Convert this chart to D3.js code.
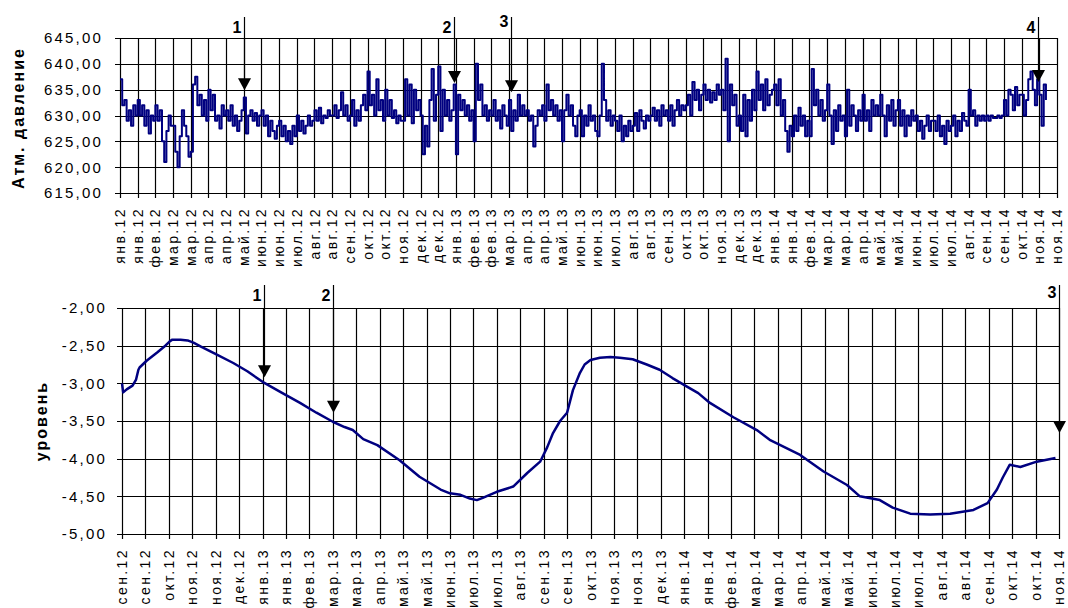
<!DOCTYPE html>
<html><head><meta charset="utf-8">
<script src="https://cdn.jsdelivr.net/npm/d3@7"></script>
<style>
body{margin:0;background:#fff}
text{font-family:"Liberation Sans",Arial,sans-serif}
</style>
</head><body>
<svg id="c" width="1068" height="608"></svg>
<script>
// ---------- DATA ----------
const topTickLabels = ["янв.12","янв.12","фев.12","мар.12","мар.12","апр.12","апр.12","май.12","июн.12","июн.12","июл.12","авг.12","авг.12","сен.12","окт.12","окт.12","ноя.12","дек.12","дек.12","янв.13","фев.13","фев.13","мар.13","апр.13","апр.13","май.13","июн.13","июн.13","июл.13","авг.13","авг.13","сен.13","окт.13","окт.13","ноя.13","дек.13","дек.13","янв.14","янв.14","фев.14","мар.14","мар.14","апр.14","май.14","май.14","июн.14","июл.14","июл.14","авг.14","сен.14","сен.14","окт.14","ноя.14","ноя.14"];
const bottomTickLabels = ["сен.12","сен.12","окт.12","ноя.12","ноя.12","дек.12","янв.13","янв.13","фев.13","мар.13","мар.13","апр.13","май.13","май.13","июн.13","июл.13","июл.13","авг.13","сен.13","сен.13","окт.13","ноя.13","ноя.13","дек.13","янв.14","янв.14","фев.14","мар.14","мар.14","апр.14","май.14","май.14","июн.14","июл.14","июл.14","авг.14","авг.14","сен.14","окт.14","окт.14","ноя.14"];
const tickStepDays = 20;
const topYTicks = [615,620,625,630,635,640,645];
const bottomYTicks = [-5,-4.5,-4,-3.5,-3,-2.5,-2];

// atmospheric pressure, one reading every 2.5 days from 01.01.2012
const pressureStepDays = 2.5;
const pressure = [
637,632,633,629,631,628,632,630,
633,630,632,628,631,626.5,630,629,
632,629,631,625,621,627,630,628,
628,623,620,626,631,628,626,622,
623,636,637.5,632,634,630,633,629,
635,631,634,629,630,627.5,632,630,
631,629,632,628,630,627,629,631,
633.5,626.5,630,631,629,630.5,628,630,
631,628,630,626,629,627,625.5,628,
629,626,628,625,627,624.5,628,626,
630,627,629,626.5,628,630,628,629,
631,629,631.5,628.5,630,629.5,631,630,
630,632,629.5,631,634.5,630,632,629,
630,633,628,631,629,632,634,631,
638.5,632,634,630,637,631,633,629,
635,630,633,629.5,631,628.5,630,629,
629,637,630,636,628.5,635,631,633,
630,622.5,628,624,633,639,629,634,
639.5,627,635,630,633,629,631,636,
622.5,634,631,633,630,632,629,631,
625,640,633,636,630,632,629,631,
630,633,629,631,627.5,632,630,628,
633,627,631,629,634,630,632,630,
631,629,630,624,628,631,630,632,
629,636,631,633,630,632,629,631,
625,631,634,630,632,628,626,630,
631,626,630,628,632,629,630,627,
626,630,640,633,629,631,628,630,
629,627,630,625,628,626,629,627,
628,630.5,627,631,629,627.5,630,629,
630,631.5,629,631,628,632,630,631,
629,632,628,631,633,630,632,631,
632,634,630,636.5,633,635,631,634,
636,633,635,632.5,634.5,633,636,634,
635,631,641,625,636,632,634,628,
630,627,634,626,633,629,635,631,
638.5,633,636,631,637,632,634,635,
636,632,637,630,633,627,623,628,
626,630,627,631.5,628,630,626,629,
626,639,632,635,630,633,629,631,
636,630,624.5,631,627,632,629,630,
626,635,628,632,630,627,631,629,
634,629,631,627,633,630,632,630,
634,630,626,632,629,633,628,631,
633,628,631,626,630,628,631,629,
630,627,629,625.5,628,630,627,629,
629,627,630,626,628,624.5,629,627,
628,630,626,629,627,630.5,629,628,
635,630,631,628,630,629,630,629,
630,629,630,629.5,629.5,630,629.5,630,
633,630,635,634,631,635.5,632,634,
634,630,633,637,638.5,635,632,637,
634,628,636,633
];

// water level, days from 10.09.2012
const levelDays = [0,1,4,9,12,14,15,21,30,37,41,43,50,56,61,67,81,95,107,120,137,152,166,180,190,197,206,218,237,254,272,280,289,297,303,308,320,334,346,357,363,368,374,380,385,391,395,400,408,417,425,436,448,459,470,482,492,502,522,542,553,579,599,619,630,647,658,673,690,707,727,739,747,752,758,767,781,797];
const levelValues = [-3.0,-3.12,-3.08,-3.03,-2.95,-2.82,-2.79,-2.70,-2.59,-2.50,-2.44,-2.42,-2.42,-2.43,-2.46,-2.51,-2.62,-2.73,-2.84,-2.98,-3.13,-3.26,-3.39,-3.51,-3.58,-3.62,-3.74,-3.82,-4.02,-4.24,-4.41,-4.46,-4.48,-4.53,-4.55,-4.52,-4.44,-4.37,-4.19,-4.04,-3.85,-3.66,-3.50,-3.39,-3.09,-2.86,-2.75,-2.69,-2.66,-2.65,-2.66,-2.68,-2.75,-2.82,-2.93,-3.04,-3.13,-3.26,-3.45,-3.62,-3.75,-3.95,-4.17,-4.35,-4.50,-4.55,-4.65,-4.73,-4.74,-4.73,-4.68,-4.59,-4.41,-4.25,-4.08,-4.11,-4.04,-3.99];

// event markers
const topMarkerLabels = ["1","2","3","4"];
const topMarkerDays = [140,378,442,1038];
const topMarkerValues = [634.9,636.3,634.5,636.5];
const bottomMarkerLabels = ["1","2","3"];
const bottomMarkerDays = [121,180,800];
const bottomMarkerValues = [-2.92,-3.39,-3.66];

// ---------- DRAW ----------
const svg = d3.select("#c");
svg.append("rect").attr("width",1068).attr("height",608).attr("fill","#fff");
const fmt = v => d3.format(".2f")(v).replace(".",",").replace("\u2212","-");

function panel(o){
  const g = svg.append("g");
  const x = d3.scaleLinear().domain([0,(o.tickLabels.length-1)*tickStepDays]).range([o.left,o.right]);
  const y = d3.scaleLinear().domain(o.yDomain).range([o.bottom,o.top]);
  g.selectAll(".hg").data(o.yTicks).join("line")
    .attr("x1",o.left-5).attr("x2",o.right)
    .attr("y1",d=>Math.round(y(d))+0.5).attr("y2",d=>Math.round(y(d))+0.5)
    .attr("stroke","#000").attr("stroke-width",1.2);
  g.selectAll(".yl").data(o.yTicks).join("text")
    .attr("x",o.left-o.ylabOff).attr("y",d=>y(d)).attr("dy","0.36em")
    .attr("text-anchor","end").attr("font-size",15).attr("letter-spacing",2.2)
    .text(fmt);
  g.selectAll(".vg").data(o.tickLabels).join("line")
    .attr("x1",(d,i)=>Math.round(x(i*tickStepDays))+0.5).attr("x2",(d,i)=>Math.round(x(i*tickStepDays))+0.5)
    .attr("y1",o.top).attr("y2",o.bottom+5)
    .attr("stroke","#000").attr("stroke-width",1.2);
  g.selectAll(".xl").data(o.tickLabels).join("text")
    .attr("transform",(d,i)=>`translate(${x(i*tickStepDays)},${o.bottom+14}) rotate(-90)`)
    .attr("dy","0.36em").attr("text-anchor","end")
    .attr("font-size",14).attr("letter-spacing",2.4)
    .text(d=>d);
  g.append("path").datum(o.series)
    .attr("d",d3.line().curve(o.curve).x(d=>x(d[0])).y(d=>y(d[1])))
    .attr("fill","none").attr("stroke","#000080").attr("stroke-width",o.lw)
    .attr("stroke-linejoin","round");
  g.append("text")
    .attr("transform",`translate(${o.titleX},${o.titleY}) rotate(-90)`)
    .attr("text-anchor","middle").attr("dy","0.36em")
    .attr("font-size",16).attr("font-weight","bold").attr("letter-spacing",2)
    .text(o.title);
  o.markers.forEach((m,i)=>{
    const mx = Math.round(x(m.day))+0.5, tip = y(m.value);
    g.append("line").attr("x1",mx).attr("x2",mx).attr("y1",o.markTop).attr("y2",tip-11)
      .attr("stroke","#000").attr("stroke-width",1.2);
    g.append("path").attr("d",`M${mx-6.5},${tip-12}L${mx+6.5},${tip-12}L${mx},${tip}Z`).attr("fill","#000");
    g.append("text").attr("x",mx-3).attr("y",m.labelY).attr("text-anchor","end")
      .attr("font-family","'Liberation Serif','Times New Roman',serif")
      .attr("font-weight","bold").attr("font-size",16).text(m.label);
  });
}

panel({
  left:120,right:1057,top:38,bottom:193,ylabOff:17,
  yDomain:[615,645],yTicks:topYTicks,tickLabels:topTickLabels,
  series:pressure.map((v,i)=>[i*pressureStepDays,v]),lw:2,curve:d3.curveStepAfter,
  title:"Атм. давление",titleX:18,titleY:118,markTop:17,
  markers:topMarkerDays.map((d,i)=>({day:d,value:topMarkerValues[i],label:topMarkerLabels[i],labelY:i===2?27:33}))
});
panel({
  left:122,right:1059,top:308,bottom:534,ylabOff:15,
  yDomain:[-5,-2],yTicks:bottomYTicks,tickLabels:bottomTickLabels,
  series:levelDays.map((d,i)=>[d,levelValues[i]]),lw:2.5,curve:d3.curveLinear,
  title:"уровень",titleX:41,titleY:421,markTop:285,
  markers:bottomMarkerDays.map((d,i)=>({day:d,value:bottomMarkerValues[i],label:bottomMarkerLabels[i],labelY:i===2?298:301}))
});
</script>
</body></html>
